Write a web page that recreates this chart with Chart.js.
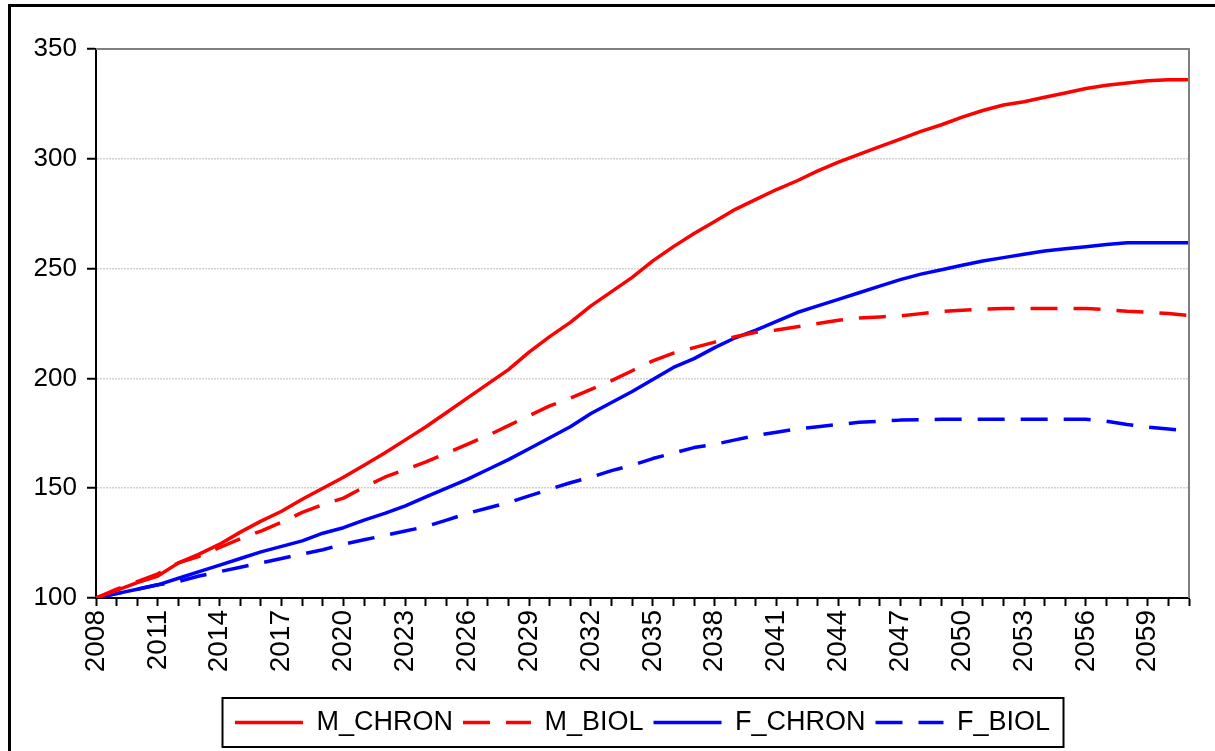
<!DOCTYPE html>
<html>
<head>
<meta charset="utf-8">
<script src="https://cdn.jsdelivr.net/npm/chart.js@4.4.0/dist/chart.umd.min.js"></script>
<style>
  html, body { margin: 0; padding: 0; background: #ffffff; }
  #wrap { width: 1215px; height: 751px; position: relative; overflow: hidden; }
  canvas { display: block; }
</style>
</head>
<body>
<div id="wrap"><canvas id="chart" width="1215" height="751"></canvas></div>
<script>
// Projection years (one category per year)
const years = [
  '2008','2009','2010','2011','2012','2013','2014','2015','2016','2017',
  '2018','2019','2020','2021','2022','2023','2024','2025','2026','2027',
  '2028','2029','2030','2031','2032','2033','2034','2035','2036','2037',
  '2038','2039','2040','2041','2042','2043','2044','2045','2046','2047',
  '2048','2049','2050','2051','2052','2053','2054','2055','2056','2057',
  '2058','2059','2060','2061'
];

// Index values (2008 = 100)
const mChron = [
  100, 103.5, 107, 110, 116, 120, 124.5, 130, 135, 139.5,
  145, 150, 155, 160.5, 166, 172, 178, 184.5, 191, 197.5,
  204, 212, 219, 225.5, 233, 239.5, 246, 253.5, 260, 266,
  271.5, 277, 281.5, 286, 290, 294.5, 298.5, 302, 305.5, 309,
  312.5, 315.5, 319, 322, 324.5, 326, 328, 330, 332, 333.5,
  334.5, 335.5, 336, 336
];
const mBiol = [
  100, 104, 107.5, 111, 116, 119, 123, 127, 130.5, 134.5,
  139, 142.5, 145.5, 150.5, 155, 158.5, 162, 166, 170, 174,
  178.5, 183, 187.5, 191, 195, 199, 203.5, 208, 211.5, 214,
  216.5, 219, 221, 222, 223.5, 225, 226.5, 227.5, 228, 228.5,
  229.5, 230.5, 231, 231.5, 231.8, 231.8, 231.8, 231.8, 231.8, 231.3,
  230.6, 230.2, 229.5, 228.6
];
const fChron = [
  100, 102, 104, 106, 109, 112, 115, 118, 121, 123.5,
  126, 129.5, 132, 135.5, 138.5, 142, 146, 150, 154, 158.5,
  163, 168, 173, 178, 184, 189, 194, 199.5, 205, 209,
  214, 218.5, 222, 226, 230, 233, 236, 239, 242, 245,
  247.5, 249.5, 251.5, 253.5, 255, 256.5, 258, 259, 260, 261,
  261.8, 261.8, 261.8, 261.8
];
const fBiol = [
  100, 102, 104, 106, 107.5, 110, 112, 114, 116, 118,
  120, 122, 124.5, 126.5, 128.5, 130.5, 132.5, 135.5, 138.5, 141,
  143.5, 146.5, 149.5, 152.5, 155, 158, 160.5, 163.5, 166, 168.5,
  170, 172, 174, 175.5, 177, 178, 179, 180, 180.5, 181,
  181.2, 181.4, 181.4, 181.4, 181.4, 181.4, 181.4, 181.4, 181.4, 180.5,
  179, 177.8, 177, 176
];

const seriesNames = ['M_CHRON', 'M_BIOL', 'F_CHRON', 'F_BIOL'];
const RED = '#ff0000';
const BLUE = '#0000ff';
const DASH = [27, 16];
const FONT = '"Liberation Sans", Arial, sans-serif';

// White page, black frame along the top and left edge, grey plot border
const framePlugin = {
  id: 'frame',
  beforeDraw(chart) {
    const ctx = chart.ctx;
    ctx.save();
    ctx.fillStyle = '#ffffff';
    ctx.fillRect(0, 0, chart.width, chart.height);
    ctx.strokeStyle = '#000000';
    ctx.lineWidth = 3;
    ctx.beginPath();
    ctx.moveTo(9.5, chart.height + 2);
    ctx.lineTo(9.5, 5.5);
    ctx.lineTo(chart.width + 2, 5.5);
    ctx.stroke();
    ctx.restore();
  },
  afterDraw(chart) {
    const ctx = chart.ctx;
    const a = chart.chartArea;
    ctx.save();
    ctx.strokeStyle = '#808080';
    ctx.lineWidth = 2;
    ctx.beginPath();
    ctx.moveTo(a.left, a.top);
    ctx.lineTo(a.right, a.top);
    ctx.lineTo(a.right, a.bottom);
    ctx.stroke();

    // box around the legend entries
    const boxes = chart.legend && chart.legend.legendHitBoxes;
    if (boxes && boxes.length) {
      const l = Math.min(...boxes.map(b => b.left)) - 13;
      const r = Math.max(...boxes.map(b => b.left + b.width)) + 13;
      const t = Math.min(...boxes.map(b => b.top)) - 11;
      const btm = Math.max(...boxes.map(b => b.top + b.height)) + 11;
      ctx.strokeStyle = '#000000';
      ctx.lineWidth = 2;
      ctx.strokeRect(Math.round(l) + 0.5, Math.round(t), Math.round(r - l), Math.round(btm - t));
    }
    ctx.restore();
  }
};

const ctx = document.getElementById('chart').getContext('2d');
new Chart(ctx, {
  type: 'line',
  data: {
    labels: years,
    datasets: [
      { label: seriesNames[0], data: mChron, borderColor: RED, backgroundColor: RED },
      { label: seriesNames[1], data: mBiol, borderColor: RED, backgroundColor: RED, borderDash: DASH },
      { label: seriesNames[2], data: fChron, borderColor: BLUE, backgroundColor: BLUE },
      { label: seriesNames[3], data: fBiol, borderColor: BLUE, backgroundColor: BLUE, borderDash: DASH }
    ]
  },
  options: {
    responsive: false,
    animation: false,
    devicePixelRatio: 1,
    layout: { padding: { left: 0, right: 26, top: 49, bottom: 5 } },
    elements: {
      line: { borderWidth: 3.5, tension: 0, fill: false, borderJoinStyle: 'round', borderCapStyle: 'butt' },
      point: { radius: 0, hoverRadius: 0 }
    },
    plugins: {
      tooltip: { enabled: false },
      legend: {
        position: 'bottom',
        fullSize: false,
        labels: {
          color: '#000000',
          font: { family: FONT, size: 27 },
          usePointStyle: true,
          pointStyleWidth: 68,
          padding: 10,
          generateLabels(chart) {
            const items = Chart.defaults.plugins.legend.labels.generateLabels(chart);
            items.forEach(it => {
              const ds = chart.data.datasets[it.datasetIndex];
              it.pointStyle = 'line';
              it.lineWidth = 3.5;
              it.lineDash = ds.borderDash || [];
              it.fillStyle = it.strokeStyle;
            });
            return items;
          }
        }
      }
    },
    scales: {
      x: {
        type: 'category',
        offset: false,
        afterFit(scale) {
          scale.height = 101;
          scale.paddingLeft = 0;
          scale.paddingRight = 0;
        },
        border: { display: true, color: '#000000', width: 2 },
        grid: {
          drawOnChartArea: false,
          drawTicks: true,
          tickLength: 8,
          tickColor: '#000000',
          tickWidth: 2
        },
        ticks: {
          autoSkip: false,
          minRotation: 90,
          maxRotation: 90,
          padding: 4,
          color: '#000000',
          font: { family: FONT, size: 28 },
          callback(value, index) {
            return index % 3 === 0 ? years[index] : '';
          }
        }
      },
      y: {
        min: 100,
        max: 350,
        afterFit(scale) { scale.width = 96; },
        border: { display: true, color: '#000000', width: 2, dash: [2, 1] },
        grid: {
          drawOnChartArea: true,
          color(c) {
            const v = c.tick && c.tick.value;
            return (v === 100 || v === 350) ? 'rgba(0,0,0,0)' : '#d2d2d2';
          },
          lineWidth: 1.5,
          drawTicks: true,
          tickLength: 9,
          tickColor: '#000000',
          tickWidth: 2,
          tickBorderDash: []
        },
        ticks: {
          stepSize: 50,
          padding: 10,
          color: '#000000',
          font: { family: FONT, size: 26 }
        }
      }
    }
  },
  plugins: [framePlugin]
});
</script>
</body>
</html>
